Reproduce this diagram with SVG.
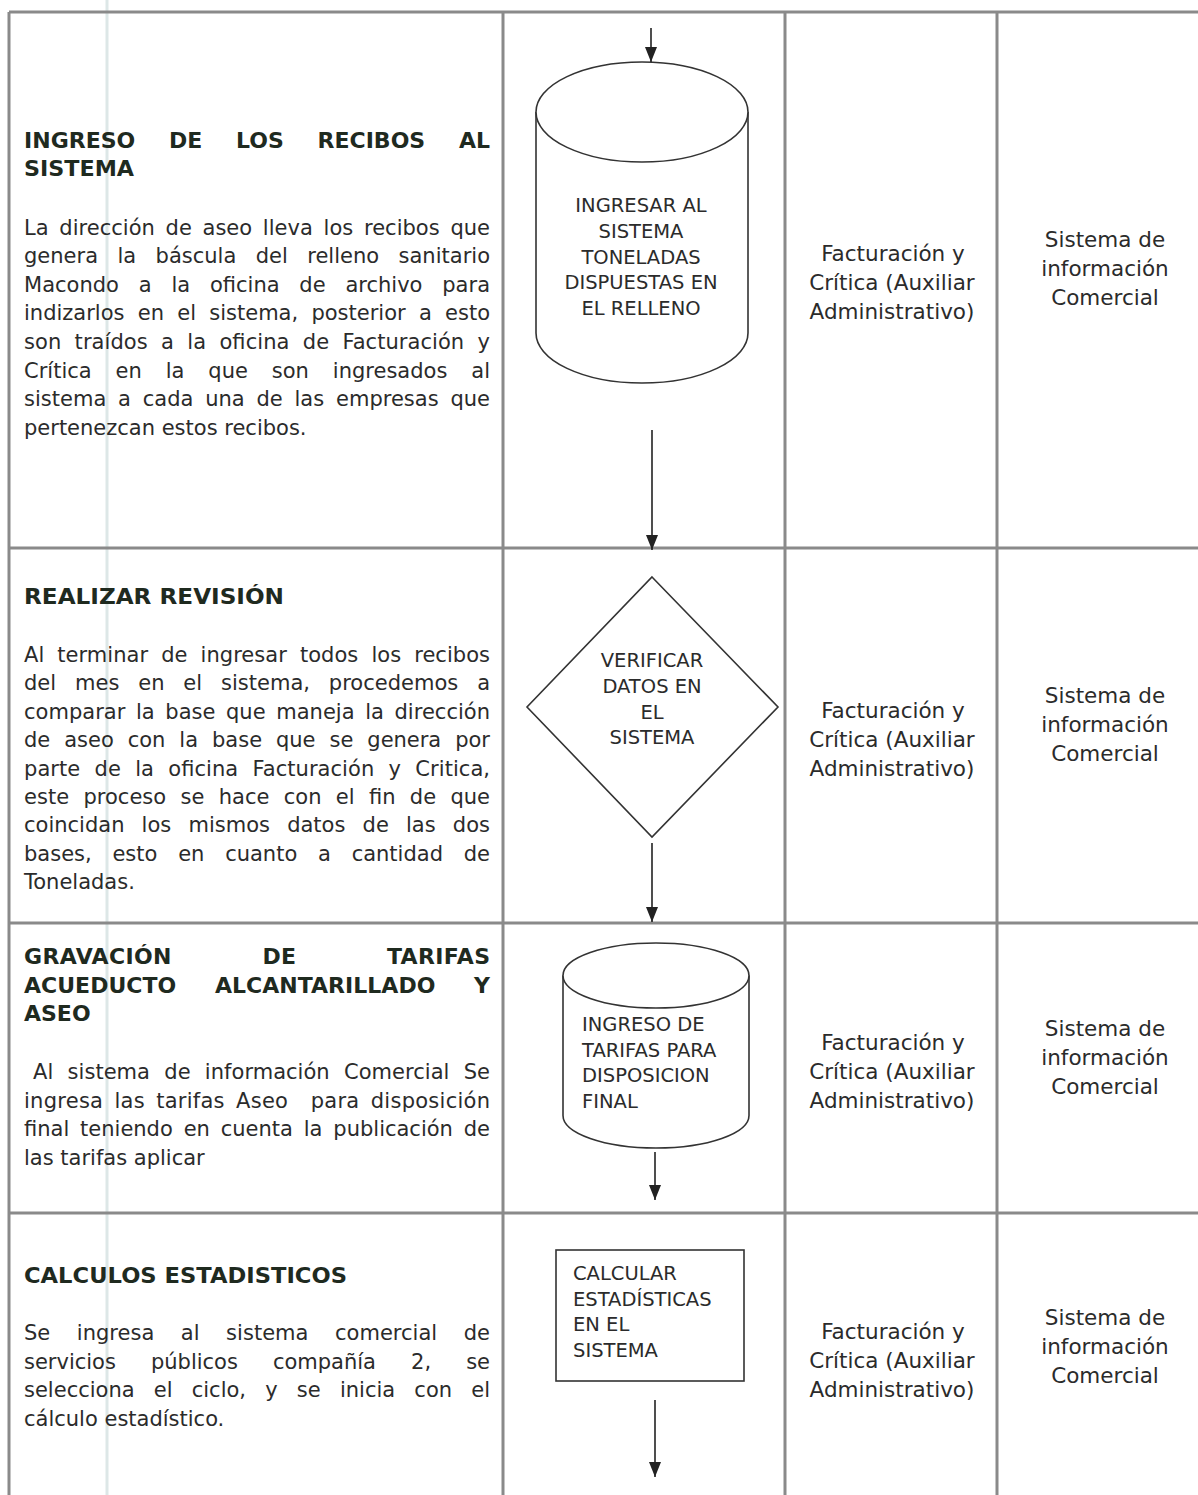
<svg xmlns="http://www.w3.org/2000/svg" width="1198" height="1495" viewBox="0 0 1198 1495">
<style>
.grid{stroke:#8a8a8a;stroke-width:3;fill:none}
.shape{stroke:#333;stroke-width:1.6;fill:#fff}
.conn{stroke:#222;stroke-width:1.6;fill:none}
.t{font-family:"DejaVu Sans",Verdana,sans-serif;font-size:21px;fill:#2b2b2b}
.h{font-family:"DejaVu Sans",Verdana,sans-serif;font-size:22px;font-weight:bold;fill:#1f2a1f}
.lb{font-family:"DejaVu Sans",Verdana,sans-serif;font-size:19.5px;fill:#2b2b2b}
.c{font-family:"DejaVu Sans",Verdana,sans-serif;font-size:21.5px;fill:#2b2b2b;text-anchor:middle}
.m{text-anchor:middle}
</style>
<defs>
<marker id="ah" viewBox="0 0 15 12" refX="15" refY="6" markerWidth="15" markerHeight="12" markerUnits="userSpaceOnUse" orient="auto">
<path d="M0,0 L15,6 L0,12 z" fill="#222"/>
</marker>
</defs>
<rect width="1198" height="1495" fill="#fff"/>
<line x1="107" y1="0" x2="107" y2="1495" stroke="#dde7e7" stroke-width="3"/>
<g id="grid">
<line class="grid" x1="9" y1="12" x2="1198" y2="12"/>
<line class="grid" x1="9" y1="548" x2="1198" y2="548"/>
<line class="grid" x1="9" y1="923" x2="1198" y2="923"/>
<line class="grid" x1="9" y1="1213" x2="1198" y2="1213"/>
<line class="grid" x1="9" y1="12" x2="9" y2="1495"/>
<line class="grid" x1="503" y1="12" x2="503" y2="1495"/>
<line class="grid" x1="785" y1="12" x2="785" y2="1495"/>
<line class="grid" x1="997" y1="12" x2="997" y2="1495"/>
</g>

<g id="row1-text">
<text class="h" x="24" y="148" word-spacing="26" textLength="466" lengthAdjust="spacing">INGRESO DE LOS RECIBOS AL</text>
<text class="h" x="24" y="176" textLength="110" lengthAdjust="spacingAndGlyphs">SISTEMA</text>
<text class="t" x="24" y="234.5" word-spacing="4" textLength="466" lengthAdjust="spacing">La dirección de aseo lleva los recibos que</text>
<text class="t" x="24" y="263" word-spacing="12.7" textLength="466" lengthAdjust="spacing">genera la báscula del relleno sanitario</text>
<text class="t" x="24" y="291.7" word-spacing="13.1" textLength="466" lengthAdjust="spacing">Macondo a la oficina de archivo para</text>
<text class="t" x="24" y="320.3" word-spacing="6.6" textLength="466" lengthAdjust="spacing">indizarlos en el sistema, posterior a esto</text>
<text class="t" x="24" y="349" word-spacing="6.6" textLength="466" lengthAdjust="spacing">son traídos a la oficina de Facturación y</text>
<text class="t" x="24" y="377.5" word-spacing="17.2" textLength="466" lengthAdjust="spacing">Crítica en la que son ingresados al</text>
<text class="t" x="24" y="406" word-spacing="5.1" textLength="466" lengthAdjust="spacing">sistema a cada una de las empresas que</text>
<text class="t" x="24" y="434.7">pertenezcan estos recibos.</text>
</g>

<g id="row2-text">
<text class="h" x="24" y="604" textLength="260" lengthAdjust="spacingAndGlyphs">REALIZAR REVISIÓN</text>
<text class="t" x="24" y="662" word-spacing="6.4" textLength="466" lengthAdjust="spacing">Al terminar de ingresar todos los recibos</text>
<text class="t" x="24" y="690" word-spacing="12.2" textLength="466" lengthAdjust="spacing">del mes en el sistema, procedemos a</text>
<text class="t" x="24" y="718.5" word-spacing="3.9" textLength="466" lengthAdjust="spacing">comparar la base que maneja la dirección</text>
<text class="t" x="24" y="747" word-spacing="7.3" textLength="466" lengthAdjust="spacing">de aseo con la base que se genera por</text>
<text class="t" x="24" y="775.5" word-spacing="7.6" textLength="466" lengthAdjust="spacing">parte de la oficina Facturación y Critica,</text>
<text class="t" x="24" y="803.5" word-spacing="7.6" textLength="466" lengthAdjust="spacing">este proceso se hace con el fin de que</text>
<text class="t" x="24" y="832" word-spacing="10.5" textLength="466" lengthAdjust="spacing">coincidan los mismos datos de las dos</text>
<text class="t" x="24" y="860.5" word-spacing="14.1" textLength="466" lengthAdjust="spacing">bases, esto en cuanto a cantidad de</text>
<text class="t" x="24" y="889">Toneladas.</text>
</g>

<g id="row3-text">
<text class="h" x="24" y="964" word-spacing="82.5" textLength="466" lengthAdjust="spacing">GRAVACIÓN DE TARIFAS</text>
<text class="h" x="24" y="992.5" word-spacing="31" textLength="466" lengthAdjust="spacing">ACUEDUCTO ALCANTARILLADO Y</text>
<text class="h" x="24" y="1021">ASEO</text>
<text class="t" x="33" y="1079" word-spacing="7.6" textLength="457" lengthAdjust="spacing">Al sistema de información Comercial Se</text>
<text class="t" x="24" y="1107.5" xml:space="preserve" word-spacing="4.3" textLength="466" lengthAdjust="spacing">ingresa las tarifas Aseo  para disposición</text>
<text class="t" x="24" y="1136" word-spacing="4.2" textLength="466" lengthAdjust="spacing">final teniendo en cuenta la publicación de</text>
<text class="t" x="24" y="1164.5">las tarifas aplicar</text>
</g>

<g id="row4-text">
<text class="h" x="24" y="1283" textLength="323" lengthAdjust="spacingAndGlyphs">CALCULOS ESTADISTICOS</text>
<text class="t" x="24" y="1340" word-spacing="19.8" textLength="466" lengthAdjust="spacing">Se ingresa al sistema comercial de</text>
<text class="t" x="24" y="1368.5" word-spacing="28.4" textLength="466" lengthAdjust="spacing">servicios públicos compañía 2, se</text>
<text class="t" x="24" y="1397" word-spacing="12.5" textLength="466" lengthAdjust="spacing">selecciona el ciclo, y se inicia con el</text>
<text class="t" x="24" y="1425.5">cálculo estadístico.</text>
</g>

<g id="node-ingresar">
<path class="shape" d="M536,112 L536,333 A106,50 0 0 0 748,333 L748,112"/>
<ellipse class="shape" cx="642" cy="112" rx="106" ry="50"/>
<text class="lb m" x="641" y="212">INGRESAR AL</text>
<text class="lb m" x="641" y="238">SISTEMA</text>
<text class="lb m" x="641" y="263.5">TONELADAS</text>
<text class="lb m" x="641" y="289">DISPUESTAS EN</text>
<text class="lb m" x="641" y="315">EL RELLENO</text>
</g>

<g id="node-verificar">
<polygon class="shape" points="652,577 778,707 652,837 527,707"/>
<text class="lb m" x="652" y="667">VERIFICAR</text>
<text class="lb m" x="652" y="693">DATOS EN</text>
<text class="lb m" x="652" y="718.5">EL</text>
<text class="lb m" x="652" y="744">SISTEMA</text>
</g>

<g id="node-tarifas">
<path class="shape" d="M563,975.5 L563,1115.5 A93,32.5 0 0 0 749,1115.5 L749,975.5"/>
<ellipse class="shape" cx="656" cy="975.5" rx="93" ry="32.5"/>
<text class="lb" x="582" y="1031">INGRESO DE</text>
<text class="lb" x="582" y="1056.5">TARIFAS PARA</text>
<text class="lb" x="582" y="1082">DISPOSICION</text>
<text class="lb" x="582" y="1107.5">FINAL</text>
</g>

<g id="node-calcular">
<rect class="shape" x="556" y="1250" width="188" height="131"/>
<text class="lb" x="573" y="1280">CALCULAR</text>
<text class="lb" x="573" y="1305.5">ESTADÍSTICAS</text>
<text class="lb" x="573" y="1331">EN EL</text>
<text class="lb" x="573" y="1356.5">SISTEMA</text>
</g>

<g id="responsables">
<text class="c" x="893" y="261">Facturación y</text>
<text class="c" x="892" y="290">Crítica (Auxiliar</text>
<text class="c" x="892" y="319">Administrativo)</text>
<text class="c" x="1105" y="247">Sistema de</text>
<text class="c" x="1105" y="276">información</text>
<text class="c" x="1105" y="305">Comercial</text>

<text class="c" x="893" y="718">Facturación y</text>
<text class="c" x="892" y="747">Crítica (Auxiliar</text>
<text class="c" x="892" y="776">Administrativo)</text>
<text class="c" x="1105" y="703">Sistema de</text>
<text class="c" x="1105" y="732">información</text>
<text class="c" x="1105" y="761">Comercial</text>

<text class="c" x="893" y="1050">Facturación y</text>
<text class="c" x="892" y="1079">Crítica (Auxiliar</text>
<text class="c" x="892" y="1108">Administrativo)</text>
<text class="c" x="1105" y="1036">Sistema de</text>
<text class="c" x="1105" y="1065">información</text>
<text class="c" x="1105" y="1094">Comercial</text>

<text class="c" x="893" y="1339">Facturación y</text>
<text class="c" x="892" y="1368">Crítica (Auxiliar</text>
<text class="c" x="892" y="1397">Administrativo)</text>
<text class="c" x="1105" y="1325">Sistema de</text>
<text class="c" x="1105" y="1354">información</text>
<text class="c" x="1105" y="1383">Comercial</text>
</g>

<g id="connectors">
<line class="conn" x1="651" y1="28" x2="651" y2="62" marker-end="url(#ah)"/>
<line class="conn" x1="652" y1="430" x2="652" y2="550" marker-end="url(#ah)"/>
<line class="conn" x1="652" y1="843" x2="652" y2="922" marker-end="url(#ah)"/>
<line class="conn" x1="655" y1="1152" x2="655" y2="1200" marker-end="url(#ah)"/>
<line class="conn" x1="655" y1="1400" x2="655" y2="1477" marker-end="url(#ah)"/>
</g>
</svg>
